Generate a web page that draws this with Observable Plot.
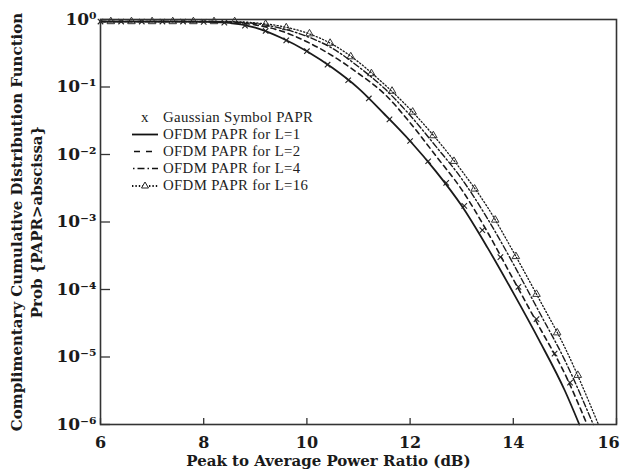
<!DOCTYPE html>
<html><head><meta charset="utf-8">
<script src="https://cdn.jsdelivr.net/npm/d3@7"></script>
<script src="https://cdn.jsdelivr.net/npm/@observablehq/plot@0.6"></script>
<style>
body{margin:0;background:#fff;}
#wrap{position:relative;width:622px;height:475px;}
#legend{position:absolute;left:130px;top:109px;font-family:"Liberation Serif",serif;font-size:14.8px;letter-spacing:0.35px;line-height:17px;color:#222;}
.row{display:flex;align-items:center;height:17px;white-space:nowrap;}
.row svg{width:30px;height:17px;flex:none;margin-right:3px;}
</style></head><body><div id="wrap"><div id="chart"></div><div id="legend"></div></div>
<script>
// ---- data (log10 of probability) ----
const xTicks = [6, 8, 10, 12, 14];
const xLastTick = [16];
const yTicks = [1, 1e-1, 1e-2, 1e-3, 1e-4, 1e-5, 1e-6];
const seriesNames = ["Gaussian Symbol PAPR", "OFDM PAPR for L=1", "OFDM PAPR for L=2", "OFDM PAPR for L=4", "OFDM PAPR for L=16"];

const l1X = [6, 6.5, 7, 7.5, 8, 8.5, 9, 9.5, 10, 10.5, 11, 11.5, 12, 12.5, 13, 13.5, 14, 14.5, 15, 15.28];
const l1Log = [-0.03, -0.03, -0.03, -0.03, -0.035, -0.05, -0.12, -0.27, -0.47, -0.72, -1.02, -1.40, -1.80, -2.25, -2.76, -3.38, -4.05, -4.75, -5.50, -6.0];

const l2X = [6, 6.5, 7, 7.5, 8, 8.5, 9, 9.5, 10, 10.5, 11, 11.5, 12, 12.5, 13, 13.5, 14, 14.5, 15, 15.43];
const l2Log = [-0.03, -0.03, -0.03, -0.03, -0.03, -0.04, -0.08, -0.17, -0.33, -0.54, -0.80, -1.10, -1.53, -2.02, -2.52, -3.15, -3.85, -4.55, -5.25, -6.0];

const l4X = [6, 6.5, 7, 7.5, 8, 8.5, 9, 9.5, 10, 10.5, 11, 11.5, 12, 12.5, 13, 13.5, 14, 14.5, 15, 15.55];
const l4Log = [-0.03, -0.03, -0.03, -0.03, -0.03, -0.035, -0.06, -0.13, -0.25, -0.43, -0.70, -1.02, -1.42, -1.88, -2.36, -2.95, -3.62, -4.33, -5.05, -6.0];

const l16X = [6, 6.5, 7, 7.5, 8, 8.5, 9, 9.5, 10, 10.5, 11, 11.5, 12, 12.5, 13, 13.5, 14, 14.5, 15, 15.65];
const l16Log = [-0.03, -0.03, -0.03, -0.03, -0.03, -0.03, -0.05, -0.10, -0.20, -0.37, -0.63, -0.96, -1.33, -1.76, -2.24, -2.78, -3.44, -4.14, -4.86, -6.0];

const l16MarkX = [6.2, 6.6, 7.0, 7.4, 7.8, 8.2, 8.6, 9.2, 9.6, 10.05, 10.45, 10.85, 11.25, 11.65, 12.05, 12.45, 12.85, 13.25, 13.65, 14.05, 14.45, 14.85, 15.25];
const l16MarkLog = [-0.03, -0.03, -0.03, -0.03, -0.03, -0.03, -0.03, -0.07, -0.12, -0.21, -0.35, -0.55, -0.80, -1.06, -1.37, -1.72, -2.10, -2.51, -2.97, -3.51, -4.07, -4.64, -5.27];

const gaussX = [6.0, 6.4, 6.8, 7.2, 7.6, 8.0, 8.4, 8.8, 9.2, 9.6, 10.0, 10.4, 10.8, 11.2, 11.6, 12.0, 12.35, 12.7, 13.05, 13.4, 13.75, 14.1, 14.45, 14.8, 15.1];
const gaussLog = [-0.03, -0.03, -0.03, -0.03, -0.03, -0.035, -0.045, -0.09, -0.17, -0.31, -0.47, -0.67, -0.90, -1.17, -1.48, -1.80, -2.10, -2.42, -2.76, -3.12, -3.52, -3.96, -4.44, -4.95, -5.38];

const xTitle = "Peak to Average Power Ratio (dB)";
const yTitle1 = "Complimentary Cumulative Distribution Function";
const yTitle2 = "Prob {PAPR>abscissa}";

// ---- build tables ----
const rows = (xs, ls) => xs.map((x, i) => ({x, p: Math.pow(10, ls[i])}));
const d1 = rows(l1X, l1Log), d2 = rows(l2X, l2Log), d4 = rows(l4X, l4Log), d16 = rows(l16X, l16Log);
const m16 = rows(l16MarkX, l16MarkLog), g = rows(gaussX, gaussLog);

const supMap = {"-": "\u207B", "0": "\u2070", "1": "\u00B9", "2": "\u00B2", "3": "\u00B3", "4": "\u2074", "5": "\u2075", "6": "\u2076"};
const supFmt = d => "10" + String(Math.round(Math.log10(d))).replace(/./g, c => supMap[c]);

const ink = "#1a1a1a";
const chart = Plot.plot({
  width: 622, height: 475,
  marginTop: 19, marginBottom: 51, marginLeft: 100, marginRight: 6,
  style: {fontFamily: "DejaVu Serif", background: "#fff", color: ink},
  x: {domain: [6, 16]},
  y: {type: "log", domain: [1e-6, 1]},
  marks: [
    Plot.axisX({ticks: xTicks.concat(xLastTick), tickSize: -6, tickFormat: () => "", label: null, stroke: "#333", strokeWidth: 1.3}),
    Plot.axisX({ticks: xTicks, tickSize: 0, tickPadding: 12, fontSize: 16, fontWeight: "bold", tickFormat: d => String(d), label: null}),
    Plot.axisX({ticks: xLastTick, tickSize: 0, tickPadding: 12, dx: -8, fontSize: 16, fontWeight: "bold", tickFormat: d => String(d), label: null}),
    Plot.axisY({ticks: yTicks, tickSize: -10, tickFormat: () => "", label: null, stroke: "#333", strokeWidth: 1.3}),
    Plot.axisY({ticks: yTicks, tickSize: 0, tickPadding: 4, fontSize: 17, fontWeight: "bold", tickFormat: supFmt, label: null}),
    Plot.line(d16, {x: "x", y: "p", curve: "monotone-x", stroke: ink, strokeWidth: 1.3, strokeDasharray: "1.2,2.2"}),
    Plot.dot(m16, {x: "x", y: "p", symbol: "triangle", r: 2.8, stroke: "#333", strokeWidth: 1, fill: "none"}),
    Plot.line(d4, {x: "x", y: "p", curve: "monotone-x", stroke: ink, strokeWidth: 1.4, strokeDasharray: "6,2.5,1.5,2.5"}),
    Plot.line(d2, {x: "x", y: "p", curve: "monotone-x", stroke: ink, strokeWidth: 1.6, strokeDasharray: "5,4"}),
    Plot.line(d1, {x: "x", y: "p", curve: "monotone-x", stroke: ink, strokeWidth: 1.8}),
    Plot.dot(g, {x: "x", y: "p", symbol: "times", r: 2.6, stroke: "#222", strokeWidth: 1.1}),
    Plot.frame({stroke: "#333", strokeWidth: 1.6}),
    Plot.text([xTitle], {text: d => d, frameAnchor: "bottom", textAnchor: "middle", dy: 41, dx: -30, fontSize: 15, fontWeight: "bold", fill: ink}),
    Plot.text([yTitle1], {text: d => d, frameAnchor: "left", textAnchor: "middle", rotate: -90, dx: -83, fontSize: 15, fontWeight: "bold", fill: ink}),
    Plot.text([yTitle2], {text: d => d, frameAnchor: "left", textAnchor: "middle", rotate: -90, dx: -63, fontSize: 15, fontWeight: "bold", fill: ink})
  ]
});
document.getElementById("chart").appendChild(chart);

// ---- legend (HTML overlay) ----
const swatches = [
  '<text x="15" y="12.5" text-anchor="middle" font-family="Liberation Serif" font-size="15" fill="#222">x</text>',
  '<line x1="2" x2="28" y1="8.5" y2="8.5" stroke="#111" stroke-width="1.8"/>',
  '<line x1="4" x2="28" y1="8.5" y2="8.5" stroke="#111" stroke-width="1.6" stroke-dasharray="6,6"/>',
  '<line x1="3" x2="28" y1="8.5" y2="8.5" stroke="#111" stroke-width="1.4" stroke-dasharray="1.5,3,7,3"/>',
  '<line x1="2" x2="28" y1="9" y2="9" stroke="#111" stroke-width="1.8" stroke-dasharray="1.4,2"/><path d="M15,5 L18.5,11 L11.5,11 Z" fill="white" stroke="#222" stroke-width="1"/>'
];
const leg = document.getElementById("legend");
seriesNames.forEach((n, i) => {
  const r = document.createElement("div");
  r.className = "row";
  r.innerHTML = `<svg viewBox="0 0 30 17">${swatches[i]}</svg><span>${n.replace(">", "&gt;")}</span>`;
  leg.appendChild(r);
});
</script>
</body></html>
